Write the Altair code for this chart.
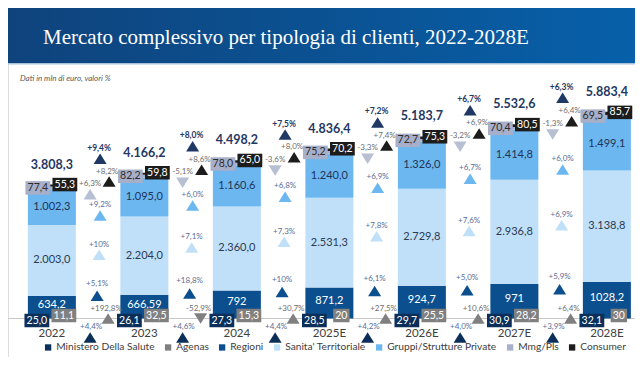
import altair as alt
import pandas as pd

# ---------------- data ----------------
years = ["2022", "2023", "2024", "2025E", "2026E", "2027E", "2028E"]
ministero = [25.0, 26.1, 27.3, 28.5, 29.7, 30.9, 32.1]
agenas = [11.1, 32.5, 15.3, 20.0, 25.5, 28.2, 30.0]
regioni = [634.2, 666.59, 792.0, 871.2, 924.7, 971.0, 1028.2]
sanita = [2003.0, 2204.0, 2360.0, 2531.3, 2729.8, 2936.8, 3138.8]
gruppi = [1002.3, 1095.0, 1160.6, 1240.0, 1326.0, 1414.8, 1499.1]
mmg = [77.4, 82.2, 78.0, 75.2, 72.7, 70.4, 69.5]
consumer = [55.3, 59.8, 65.0, 70.2, 75.3, 80.5, 85.7]
totals = [3808.3, 4166.2, 4498.2, 4836.4, 5183.7, 5532.6, 5883.4]

ministero_lab = ["25,0", "26,1", "27,3", "28,5", "29,7", "30,9", "32,1"]
agenas_lab = ["11,1", "32,5", "15,3", "20", "25,5", "28,2", "30"]
regioni_lab = ["634,2", "666,59", "792", "871,2", "924,7", "971", "1028,2"]
sanita_lab = ["2.003,0", "2.204,0", "2.360,0", "2.531,3", "2.729,8", "2.936,8", "3.138,8"]
gruppi_lab = ["1.002,3", "1.095,0", "1.160,6", "1.240,0", "1.326,0", "1.414,8", "1.499,1"]
mmg_lab = ["77,4", "82,2", "78,0", "75,2", "72,7", "70,4", "69,5"]
consumer_lab = ["55,3", "59,8", "65,0", "70,2", "75,3", "80,5", "85,7"]
totals_lab = ["3.808,3", "4.166,2", "4.498,2", "4.836,4", "5.183,7", "5.532,6", "5.883,4"]

g_total = ["+9,4%", "+8,0%", "+7,5%", "+7,2%", "+6,7%", "+6,3%"]
g_consumer = ["+8,2%", "+8,6%", "+8,0%", "+7,4%", "+6,9%", "+6,4%"]
g_mmg = ["+6,3%", "-5,1%", "-3,6%", "-3,3%", "-3,2%", "-1,3%"]
g_gruppi = ["+9,2%", "+6,0%", "+6,8%", "+6,9%", "+6,7%", "+6,0%"]
g_sanita = ["+10%", "+7,1%", "+7,3%", "+7,8%", "+7,6%", "+6,9%"]
g_regioni = ["+5,1%", "+18,8%", "+10%", "+6,1%", "+5,0%", "+5,9%"]
g_agenas = ["+192,8%", "-52,9%", "+30,7%", "+27,5%", "+10,6%", "+6,4%"]
g_ministero = ["+4,4%", "+4,6%", "+4,4%", "+4,2%", "+4,0%", "+3,9%"]

series_names = ["Ministero Della Salute", "Agenas", "Regioni", "Sanita' Territoriale",
                "Gruppi/Strutture Private", "Mmg/Pls", "Consumer"]
series_colors = ["#0c2f5a", "#808080", "#0b4f8f", "#bfe0f8", "#6cb7ef", "#a7afc9", "#1c1c1c"]

TITLE = "Mercato complessivo per tipologia di clienti, 2022-2028E"
SUBTITLE = "Dati in mln di euro, valori %"
FONT = "Lato"
NAVY = "#1f3864"

# ---------------- layout ----------------
W, H = 627, 349
xs = alt.Scale(domain=[-0.42021, 6.25], nice=False, zero=False)
ys = alt.Scale(domain=[-1084.5, 8746.5], nice=False, zero=False)

n = len(years)
c1 = list(regioni)
c2 = [a + b for a, b in zip(c1, sanita)]
c3 = [a + b for a, b in zip(c2, gruppi)]
c4 = [a + b for a, b in zip(c3, mmg)]
c5 = [a + b for a, b in zip(c4, consumer)]

one = pd.DataFrame({"a": [0]})

# header
header = alt.Chart(one).mark_rect(
    color=alt.Gradient(gradient="linear",
                       stops=[alt.GradientStop(color="#0f437c", offset=0),
                              alt.GradientStop(color="#0760a9", offset=1)],
                       x1=0, x2=1, y1=0, y2=0)
).encode(x=alt.value(0), x2=alt.value(W), y=alt.value(0), y2=alt.value(55))
header_line = alt.Chart(one).mark_rect(color="#a9c2dc").encode(
    x=alt.value(0), x2=alt.value(W), y=alt.value(55), y2=alt.value(56.5))
title = alt.Chart(one).mark_text(
    text=TITLE, font="Liberation Serif", fontSize=21, color="white",
    align="left", baseline="alphabetic"
).encode(x=alt.value(35), y=alt.value(36))
subtitle = alt.Chart(one).mark_text(
    text=SUBTITLE, font=FONT, fontSize=8, fontStyle="italic", color="#595959",
    align="left", baseline="middle"
).encode(x=alt.value(12), y=alt.value(71))

# bars
rows = []
for name, lo, hi in [("Regioni", [0] * n, c1), ("Sanita' Territoriale", c1, c2),
                     ("Gruppi/Strutture Private", c2, c3), ("Mmg/Pls", c3, c4),
                     ("Consumer", c4, c5)]:
    for i in range(n):
        rows.append(dict(idx=i, series=name, y0=lo[i], y1=hi[i]))
bars = alt.Chart(pd.DataFrame(rows)).mark_bar(size=48).encode(
    x=alt.X("idx:Q", scale=xs, axis=None),
    y=alt.Y("y0:Q", scale=ys, axis=None),
    y2="y1:Q",
    color=alt.Color("series:N",
                    scale=alt.Scale(domain=series_names, range=series_colors),
                    legend=alt.Legend(title=None, orient="none", legendX=35, legendY=334,
                                      direction="horizontal",
                                      symbolType="square", symbolSize=40,
                                      symbolStrokeWidth=0, labelFont=FONT,
                                      labelFontSize=10.2, labelColor="#404040",
                                      columnPadding=8, labelOffset=3, padding=0)),
)

axis_rule = alt.Chart(pd.DataFrame({"y": [0]})).mark_rule(color="#c8c8c8", strokeWidth=1).encode(
    x=alt.value(0), x2=alt.value(W), y=alt.Y("y:Q", scale=ys, axis=None))


def text_layer(vals_y, labels, color, size, dx=0, dy=0, bold=False, xpos=None):
    df = pd.DataFrame({"idx": xpos if xpos is not None else list(range(len(labels))),
                       "y": vals_y, "label": labels})
    return alt.Chart(df).mark_text(
        font=FONT, fontSize=size, color=color, dx=dx, dy=dy,
        fontWeight="bold" if bold else "normal", align="center", baseline="middle"
    ).encode(x=alt.X("idx:Q", scale=xs, axis=None),
             y=alt.Y("y:Q", scale=ys, axis=None), text="label:N")


seg_labels = [
    text_layer([(a + b) / 2 for a, b in zip(c2, c3)], gruppi_lab, "#1f3458", 11),
    text_layer([(a + b) / 2 for a, b in zip(c1, c2)], sanita_lab, "#2b3a55", 11),
    text_layer([a / 2 for a in c1], regioni_lab, "white", 11, dy=-2),
]

# custom symbol paths drawn at size 4 -> 1 path unit = 1 pixel


def rect_path(dx, dy, w, h):
    return f"M{dx - w / 2:.2f},{dy - h / 2:.2f}h{w:.2f}v{h:.2f}h{-w:.2f}Z"


def tri_path(dx, dy, up, w=13.0, h=10.5):
    if up:
        return (f"M{dx:.2f},{dy - h / 2:.2f}L{dx + w / 2:.2f},{dy + h / 2:.2f}"
                f"L{dx - w / 2:.2f},{dy + h / 2:.2f}Z")
    return (f"M{dx:.2f},{dy + h / 2:.2f}L{dx + w / 2:.2f},{dy - h / 2:.2f}"
            f"L{dx - w / 2:.2f},{dy - h / 2:.2f}Z")


def box_layer(anchor, labels, fill, tcolor, dx, dy):
    recs = []
    for i, lab in enumerate(labels):
        w = 4.2 * len(lab) + 8
        recs.append(dict(idx=i, y=anchor[i], label=lab, shape=rect_path(dx, dy, w, 13.5)))
    df = pd.DataFrame(recs)
    box = alt.Chart(df).mark_point(filled=True, opacity=1, color=fill, strokeWidth=0,
                                   size=4).encode(
        x=alt.X("idx:Q", scale=xs, axis=None),
        y=alt.Y("y:Q", scale=ys, axis=None),
        shape=alt.Shape("shape:N", scale=None),
    )
    txt = alt.Chart(df).mark_text(font=FONT, fontSize=10.5, color=tcolor, dx=dx, dy=dy,
                                  align="center", baseline="middle").encode(
        x=alt.X("idx:Q", scale=xs, axis=None),
        y=alt.Y("y:Q", scale=ys, axis=None), text="label:N")
    return [box, txt]


boxes = []
boxes += box_layer([(a + b) / 2 for a, b in zip(c3, c4)], mmg_lab, "#a7afc9", "#2d2d2d", -14, 0)
boxes += box_layer([(a + b) / 2 for a, b in zip(c4, c5)], consumer_lab, "#1c1c1c", "white", 13, -1)
boxes += box_layer([0] * n, ministero_lab, "#0c2f5a", "white", -15, 2)
boxes += box_layer([0] * n, agenas_lab, "#808080", "white", 12, -3)

# growth triangles
gx = [i + 0.5 for i in range(n - 1)]


def growth_layer(anchor, labels, vals, tri_color, txt_color, tdx, tdy, ldx, ldy, bold=False):
    shapes = [tri_path(tdx, tdy, vals[g + 1] >= vals[g]) for g in range(n - 1)]
    df = pd.DataFrame({"idx": gx, "y": anchor, "label": labels, "shape": shapes})
    tri = alt.Chart(df).mark_point(filled=True, opacity=1, color=tri_color, size=4,
                                   strokeWidth=0).encode(
        x=alt.X("idx:Q", scale=xs, axis=None),
        y=alt.Y("y:Q", scale=ys, axis=None),
        shape=alt.Shape("shape:N", scale=None),
    )
    txt = alt.Chart(df).mark_text(font=FONT, fontSize=8.5 if bold else 8, color=txt_color,
                                  fontWeight="bold" if bold else "normal",
                                  dx=ldx, dy=ldy, align="center", baseline="middle").encode(
        x=alt.X("idx:Q", scale=xs, axis=None),
        y=alt.Y("y:Q", scale=ys, axis=None), text="label:N")
    return [tri, txt]


GRAY_T = "#6e6e6e"
BLUE_T = "#5a6e96"
growth = []
growth += growth_layer([c5[g + 1] for g in range(n - 1)], g_total, totals, NAVY, NAVY, 2, -14, 1, -25, bold=True)
growth += growth_layer([c5[g] for g in range(n - 1)], g_consumer, consumer, "#1c1c1c", GRAY_T, 11, -3, 9, -13)
growth += growth_layer([c3[g] for g in range(n - 1)], g_mmg, mmg, "#b7bfd3", GRAY_T, -8, 5, -8, -5.5)
growth += growth_layer([c2[g + 1] for g in range(n - 1)], g_gruppi, gruppi, "#6cb7ef", BLUE_T, 2, -1, 2, -11.5)
growth += growth_layer([(c1[g + 1] + c2[g + 1]) / 2 for g in range(n - 1)], g_sanita, sanita, "#bfe0f8", BLUE_T, 1, -1, 1, -11)
growth += growth_layer([c1[g + 1] / 2 for g in range(n - 1)], g_regioni, regioni, "#0b4f8f", BLUE_T, -1, -11, -1, -23)
growth += growth_layer([0] * (n - 1), g_agenas, agenas, "#808080", GRAY_T, 10, 0, 8, -10)
growth += growth_layer([0] * (n - 1), g_ministero, ministero, "#0c2f5a", BLUE_T, -8, 19, -7, 8.5)

totals_layer = text_layer(c5, totals_lab, NAVY, 12.5, dy=-20, bold=True)
years_layer = text_layer([0] * n, years, "#404040", 11.5, dy=15)

chart = alt.layer(
    header, header_line, title, subtitle, axis_rule, bars, *seg_labels,
    *growth, *boxes, totals_layer, years_layer
).properties(
    width=W, height=H, padding=0, autosize=alt.AutoSizeParams(type="none")
).configure_view(stroke=None).configure(background="white")

chart.save("out.html", embed_options={"renderer": "svg", "actions": False})
